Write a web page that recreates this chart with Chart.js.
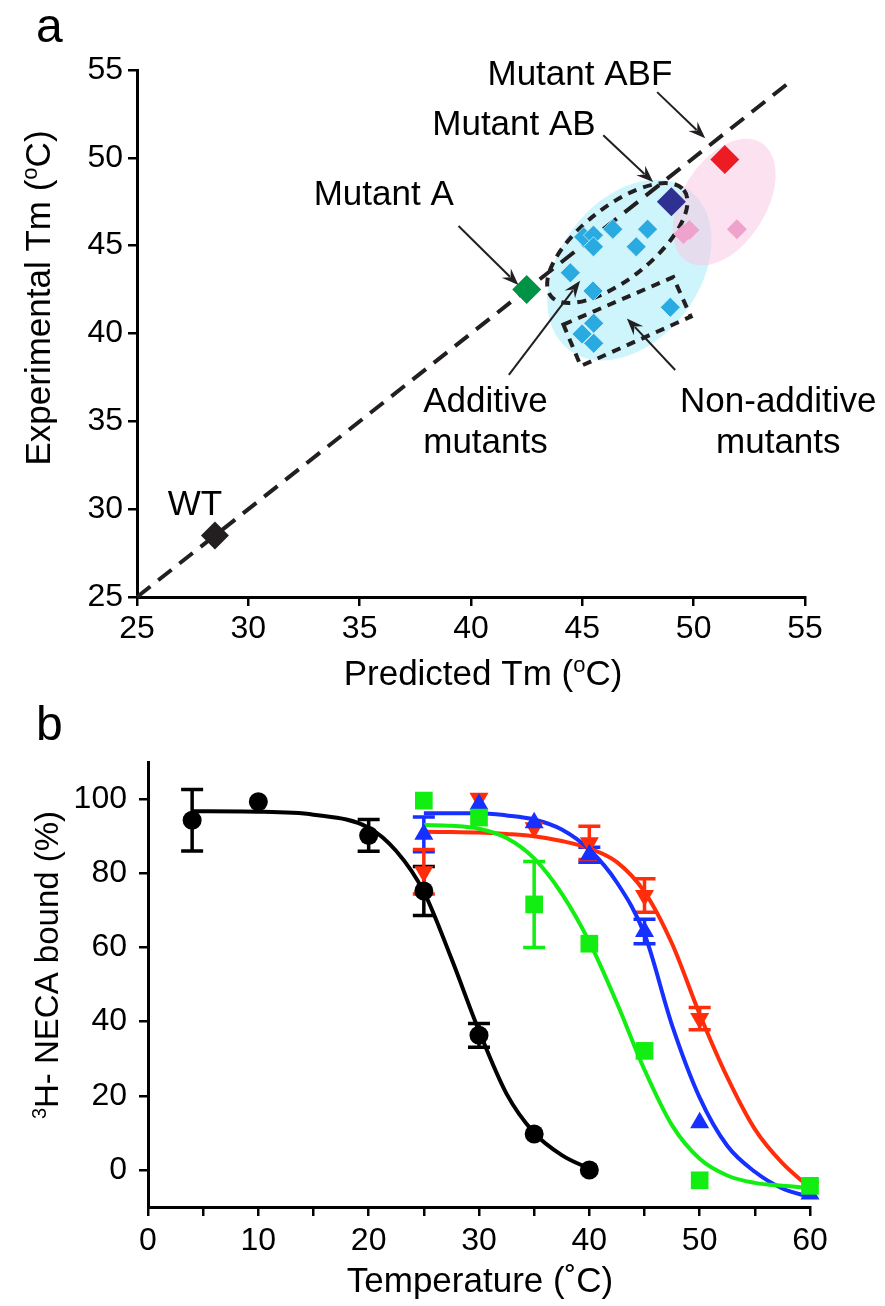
<!DOCTYPE html>
<html><head><meta charset="utf-8">
<script src="https://cdn.jsdelivr.net/npm/chart.js@4.4.1/dist/chart.umd.min.js"></script>
<style>
html,body{margin:0;padding:0;background:#fff;width:885px;height:1306px;overflow:hidden}
#wa{position:absolute;left:0;top:0;width:885px;height:700px}
#wb{position:absolute;left:0;top:700px;width:885px;height:606px}
canvas{display:block}
</style></head><body>
<div id="wa"><canvas id="ca" width="885" height="700"></canvas></div>
<div id="wb"><canvas id="cb" width="885" height="606"></canvas></div>
<script>
// ================= PANEL a DATA =================
const tmTicks = [25, 30, 35, 40, 45, 50, 55];
const wtPred = [28.5],  wtExp = [28.5];
const mutAPred = [42.5], mutAExp = [42.5];
const mutABPred = [49.0], mutABExp = [47.5];
const mutABFPred = [51.4], mutABFExp = [49.9];
const otherPred = [45.06, 45.5, 45.5, 46.37, 47.93, 47.42, 44.46, 45.48, 48.95, 45.51, 44.99, 45.51];
const otherExp  = [45.5, 45.6, 44.94, 45.94, 45.94, 44.94, 43.46, 42.42, 41.49, 40.58, 39.97, 39.44];
const abfLikePred = [49.54, 49.81, 51.94];
const abfLikeExp  = [45.66, 45.89, 45.93];
const identityEnds = [25, 54.2];

// ================= PANEL b DATA =================
const tempTicks = [0, 5, 10, 15, 20, 25, 30, 35, 40, 45, 50, 55, 60];
const tempTickLabels = ['0', '', '10', '', '20', '', '30', '', '40', '', '50', '', '60'];
const boundTicks = [0, 20, 40, 60, 80, 100];

const wtT = [4, 10, 20, 25, 30, 35, 40];
const wtB = [94.3, 99.3, 90.2, 75.2, 36.3, 9.7, 0];
const wtE = [8.3, 0, 4.3, 6.6, 3.2, 0, 0];
const aT = [25, 30, 35, 40, 45, 50, 60];
const aB = [99.6, 95.0, 71.6, 61.0, 32.1, -2.8, -4.3];
const aE = [0, 0, 11.6, 0, 0, 0, 0];
const abT = [25, 30, 35, 40, 45, 50, 60];
const abB = [90.5, 98.6, 93.6, 85.0, 64.3, 12.7, -6.5];
const abE = [4.7, 0, 0, 2.0, 3.3, 0, 0];
const abfT = [25, 30, 35, 40, 45, 50, 60];
const abfB = [80.4, 100.2, 92.3, 88.2, 74.0, 40.8, -4.6];
const abfE = [6.0, 0, 0, 4.5, 4.5, 3.0, 0];

// fitted curves
const wtFitT = [4, 10, 15, 20, 22.5, 25, 27.5, 30, 32.5, 35, 37.5, 40];
const wtFit  = [96.7, 96.6, 95.8, 92.3, 86, 75, 57, 37.5, 20.5, 10, 4, 0.3];
const aFitT = [25, 27.5, 30, 32.5, 35, 37.5, 40, 42.5, 45, 47.5, 50, 52.5, 55, 57.5, 60];
const aFit  = [93, 92.8, 92, 89.5, 84, 74.5, 61.5, 45, 27, 12, 3, -1.5, -3.5, -4.3, -4.8];
const abFitT = [25, 27.5, 30, 32.5, 35, 37.5, 40, 42.5, 45, 47.5, 50, 52.5, 55, 57.5, 60];
const abFit  = [96.2, 96.2, 96.2, 95.6, 94.5, 91.8, 86.4, 77.5, 63.6, 39, 19.5, 6.5, -0.5, -5, -7.3];
const abfFitT = [25, 27.5, 30, 32.5, 35, 37.5, 40, 42.5, 45, 47.5, 50, 52.5, 55, 57.5, 60];
const abfFit  = [91.2, 91.1, 91, 90.6, 90, 88.7, 86.7, 83, 75, 61, 42, 25, 11, 1.8, -4.8];

// ================= STYLE / LAYOUT =================
const FONT = '"Liberation Sans", Arial, Helvetica, sans-serif';
Chart.defaults.font.family = FONT;
const INK = '#231f20';
const zip = (xs, ys) => xs.map((x, i) => ({x: x, y: ys[i]}));

function axis(min, max, tickVals, labelFn, fitSize, isX, pad) {
  return {
    type: 'linear', min: min, max: max,
    afterFit: s => { if (isX) s.height = fitSize; else s.width = fitSize; },
    afterBuildTicks: s => { s.ticks = tickVals.map(v => ({value: v})); },
    ticks: {color: '#000', font: {size: 32, family: FONT}, padding: pad, maxRotation: 0, autoSkip: false,
            callback: labelFn},
    grid: {display: true, drawOnChartArea: false, drawTicks: true, tickLength: 9, color: '#000', lineWidth: 2.5},
    border: {display: true, color: '#000', width: 3}
  };
}

function drawRich(ctx, parts, x, y, size, rotate) {
  ctx.save();
  ctx.translate(x, y);
  if (rotate) ctx.rotate(-Math.PI / 2);
  ctx.fillStyle = '#000';
  ctx.textAlign = 'left';
  ctx.textBaseline = 'alphabetic';
  let total = 0;
  const widths = parts.map(p => {
    ctx.font = (p.sup ? Math.round(size * 0.62) : size) + 'px ' + FONT;
    const w = ctx.measureText(p.t).width; total += w; return w;
  });
  let cx = -total / 2;
  parts.forEach((p, i) => {
    ctx.font = (p.sup ? Math.round(size * 0.62) : size) + 'px ' + FONT;
    ctx.fillText(p.t, cx, p.sup ? -size * 0.36 : 0);
    cx += widths[i];
  });
  ctx.restore();
}

function arrow(ctx, x1, y1, x2, y2) {
  const a = Math.atan2(y2 - y1, x2 - x1), L = 17, W = 6.5;
  ctx.beginPath();
  ctx.moveTo(x1, y1);
  ctx.lineTo(x2 - Math.cos(a) * L * 0.7, y2 - Math.sin(a) * L * 0.7);
  ctx.stroke();
  ctx.beginPath();
  ctx.moveTo(x2, y2);
  ctx.lineTo(x2 - Math.cos(a) * L + Math.sin(a) * W, y2 - Math.sin(a) * L - Math.cos(a) * W);
  ctx.lineTo(x2 - Math.cos(a) * L * 0.65, y2 - Math.sin(a) * L * 0.65);
  ctx.lineTo(x2 - Math.cos(a) * L - Math.sin(a) * W, y2 - Math.sin(a) * L + Math.cos(a) * W);
  ctx.closePath();
  ctx.fill();
}

// panel a annotations (anchored in data coordinates)
const regionsA = {
  ellipses: [
    {x: 47.11, y: 43.61, rx: 100, ry: 70, rot: -53, fill: 'rgb(205,245,251)'},
    {x: 51.37, y: 47.48, rx: 70, ry: 42, rot: -58, fill: 'rgba(250,200,228,0.55)'}
  ],
  additiveLoop: {x: 46.57, y: 45.15, rx: 85, ry: 36, rot: -38.5},
  nonAdditiveBox: [[44.15, 40.51], [49.08, 43.21], [49.87, 40.96], [44.93, 38.15]]
};
const labelsA = [
  {lines: ['Mutant ABF'], x: 44.89, y: 54.14},
  {lines: ['Mutant AB'], x: 41.93, y: 51.29},
  {lines: ['Mutant A'], x: 36.08, y: 47.31},
  {lines: ['WT'], x: 27.6, y: 29.67},
  {lines: ['Additive', 'mutants'], x: 40.65, y: 35.55},
  {lines: ['Non-additive', 'mutants'], x: 53.8, y: 35.55}
];
const arrowsA = [
  {from: [48.36, 53.74], to: [50.52, 51.12]},
  {from: [45.94, 51.29], to: [48.18, 48.62]},
  {from: [39.44, 46.12], to: [42.13, 42.76]},
  {from: [41.70, 37.64], to: [44.90, 43.00]},
  {from: [49.17, 37.92], to: [47.00, 40.86]}
];

const panelAPlugin = {
  id: 'panelA',
  beforeDatasetsDraw(chart) {
    const ctx = chart.ctx, xs = chart.scales.x, ys = chart.scales.y;
    ctx.save();
    regionsA.ellipses.forEach(e => {
      ctx.beginPath();
      ctx.ellipse(xs.getPixelForValue(e.x), ys.getPixelForValue(e.y), e.rx, e.ry, e.rot * Math.PI / 180, 0, 2 * Math.PI);
      ctx.fillStyle = e.fill; ctx.fill();
    });
    ctx.strokeStyle = INK; ctx.lineWidth = 4; ctx.setLineDash([9, 7]);
    const l = regionsA.additiveLoop;
    ctx.beginPath();
    ctx.ellipse(xs.getPixelForValue(l.x), ys.getPixelForValue(l.y), l.rx, l.ry, l.rot * Math.PI / 180, 0, 2 * Math.PI);
    ctx.stroke();
    ctx.beginPath();
    regionsA.nonAdditiveBox.forEach((p, i) => {
      const px = xs.getPixelForValue(p[0]), py = ys.getPixelForValue(p[1]);
      if (i === 0) ctx.moveTo(px, py); else ctx.lineTo(px, py);
    });
    ctx.closePath(); ctx.stroke();
    ctx.restore();
  },
  afterDatasetsDraw(chart) {
    const ctx = chart.ctx, xs = chart.scales.x, ys = chart.scales.y;
    ctx.save();
    ctx.strokeStyle = INK; ctx.fillStyle = INK; ctx.lineWidth = 2;
    arrowsA.forEach(a => arrow(ctx, xs.getPixelForValue(a.from[0]), ys.getPixelForValue(a.from[1]),
                                     xs.getPixelForValue(a.to[0]), ys.getPixelForValue(a.to[1])));
    ctx.fillStyle = '#000'; ctx.font = '35px ' + FONT; ctx.textAlign = 'center'; ctx.textBaseline = 'alphabetic';
    labelsA.forEach(t => {
      const px = xs.getPixelForValue(t.x), py = ys.getPixelForValue(t.y);
      t.lines.forEach((s, i) => ctx.fillText(s, px, py + i * 41.6));
    });
    ctx.restore();
  },
  afterDraw(chart) {
    const ctx = chart.ctx;
    drawRich(ctx, [{t: 'Predicted Tm ('}, {t: 'o', sup: true}, {t: 'C)'}], 483, 685, 35, false);
    drawRich(ctx, [{t: 'Experimental Tm ('}, {t: 'o', sup: true}, {t: 'C)'}], 50, 298, 35, true);
    ctx.save(); ctx.fillStyle = '#000'; ctx.font = '48px ' + FONT; ctx.textAlign = 'left';
    ctx.fillText('a', 36, 42); ctx.restore();
  }
};

const diamond = (data, color, r, extra) => Object.assign({
  type: 'scatter', data: data, pointStyle: 'rectRot', pointRadius: r, pointHoverRadius: r,
  backgroundColor: color, borderColor: color, borderWidth: 0, order: 1
}, extra || {});

new Chart(document.getElementById('ca'), {
  data: {
    datasets: [
      {type: 'line', data: zip(identityEnds, identityEnds), borderColor: INK, borderWidth: 4,
       borderDash: [17, 10], pointRadius: 0, order: 10, clip: false},
      diamond(zip(otherPred, otherExp), '#29abe2', 10, {borderColor: 'rgba(220,245,255,0.7)', borderWidth: 1}),
      diamond(zip(abfLikePred, abfLikeExp), '#efa3cc', 10),
      diamond(zip(wtPred, wtExp), INK, 14),
      diamond(zip(mutAPred, mutAExp), '#009245', 14.5),
      diamond(zip(mutABPred, mutABExp), '#2e3192', 14.5),
      diamond(zip(mutABFPred, mutABFExp), '#ed1c24', 14.5)
    ]
  },
  options: {
    responsive: false, animation: false, events: [],
    layout: {padding: {left: 0, top: 70, right: 80, bottom: 0}},
    plugins: {legend: {display: false}, tooltip: {enabled: false}},
    scales: {
      x: axis(25, 55, tmTicks, v => String(v), 103, true, 4),
      y: axis(25, 55, tmTicks, v => String(v), 137, false, 5)
    }
  },
  plugins: [panelAPlugin]
});

// ================= PANEL b =================
const C_WT = '#000000', C_A = '#12ee12', C_AB = '#1530ff', C_ABF = '#ff2d0a';
const errSeries = [
  {t: wtT, v: wtB, e: wtE, c: C_WT},
  {t: aT, v: aB, e: aE, c: C_A},
  {t: abT, v: abB, e: abE, c: C_AB},
  {t: abfT, v: abfB, e: abfE, c: C_ABF}
];
const panelBPlugin = {
  id: 'panelB',
  beforeDatasetsDraw(chart) {
    const ctx = chart.ctx, xs = chart.scales.x, ys = chart.scales.y;
    ctx.save(); ctx.lineWidth = 3.5; ctx.lineCap = 'butt';
    errSeries.forEach(s => {
      ctx.strokeStyle = s.c;
      s.t.forEach((t, i) => {
        if (!s.e[i]) return;
        const px = xs.getPixelForValue(t);
        const top = ys.getPixelForValue(s.v[i] + s.e[i]), bot = ys.getPixelForValue(s.v[i] - s.e[i]);
        ctx.beginPath();
        ctx.moveTo(px, top); ctx.lineTo(px, bot);
        ctx.moveTo(px - 11, top); ctx.lineTo(px + 11, top);
        ctx.moveTo(px - 11, bot); ctx.lineTo(px + 11, bot);
        ctx.stroke();
      });
    });
    ctx.restore();
  },
  afterDraw(chart) {
    const ctx = chart.ctx;
    drawRich(ctx, [{t: 'Temperature (˚C)'}], 480, 592, 35, false);
    drawRich(ctx, [{t: '3', sup: true}, {t: 'H- NECA bound (%)'}], 58, 265, 33, true);
    ctx.save(); ctx.fillStyle = '#000'; ctx.font = '48px ' + FONT; ctx.textAlign = 'left';
    ctx.fillText('b', 36, 40); ctx.restore();
  }
};

const fitLine = (xs, ys, c) => ({
  type: 'line', data: zip(xs, ys), borderColor: c, borderWidth: 4, pointRadius: 0,
  cubicInterpolationMode: 'monotone', order: 5, clip: false
});
const markers = (xs, ys, c, style, r, rot) => ({
  type: 'scatter', data: zip(xs, ys), pointStyle: style, pointRadius: r, pointHoverRadius: r,
  rotation: rot || 0, backgroundColor: c, borderColor: c, borderWidth: 0, order: 1, clip: false
});

new Chart(document.getElementById('cb'), {
  data: {
    datasets: [
      fitLine(wtFitT, wtFit, C_WT),
      fitLine(aFitT, aFit, C_A),
      fitLine(abFitT, abFit, C_AB),
      fitLine(abfFitT, abfFit, C_ABF),
      markers(wtT, wtB, C_WT, 'circle', 9.5),
      markers(aT, aB, C_A, 'rect', 12.5),
      markers(abT, abB, C_AB, 'triangle', 11),
      markers(abfT, abfB, C_ABF, 'triangle', 11, 180)
    ]
  },
  options: {
    responsive: false, animation: false, events: [],
    layout: {padding: {left: 0, top: 62, right: 75, bottom: 0}},
    plugins: {legend: {display: false}, tooltip: {enabled: false}},
    scales: {
      x: axis(0, 60, tempTicks, (v, i) => tempTickLabels[i], 99, true, 6),
      y: axis(-10, 110, boundTicks, v => String(v), 148, false, 12)
    }
  },
  plugins: [panelBPlugin]
});
</script>
</body></html>
